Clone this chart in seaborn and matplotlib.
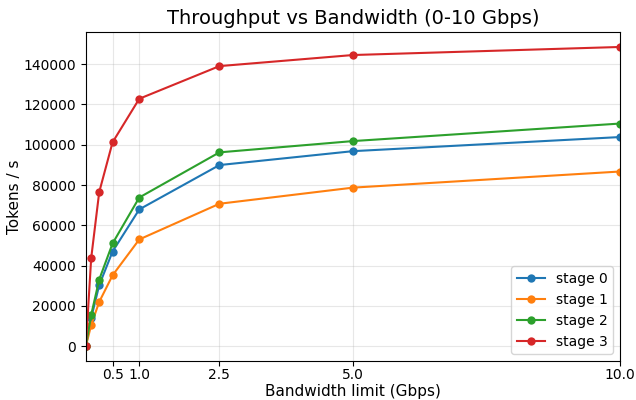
import pandas as pd
import matplotlib
matplotlib.use("Agg")
import matplotlib.pyplot as plt
import seaborn as sns

# Bandwidth limits (Gbps) and measured throughput per stage
bandwidth = [0, 0.1, 0.25, 0.5, 1.0, 2.5, 5.0, 10.0]
stage0 = [0, 14000, 30300, 47000, 67900, 89900, 96800, 103800]
stage1 = [0, 10600, 22000, 35200, 53000, 70700, 78700, 86700]
stage2 = [0, 15600, 33100, 51000, 73800, 96200, 101800, 110500]
stage3 = [0, 43800, 76500, 101200, 122800, 139000, 144500, 148500]
stages = ["stage 0", "stage 1", "stage 2", "stage 3"]
xticks = [0.5, 1.0, 2.5, 5.0, 10.0]

rows = []
for name, vals in zip(stages, [stage0, stage1, stage2, stage3]):
    for bw, v in zip(bandwidth, vals):
        rows.append({"bw": bw, "tps": v, "stage": name})
df = pd.DataFrame(rows)

fig, ax = plt.subplots(figsize=(6.36, 4.0), dpi=100)
sns.lineplot(data=df, x="bw", y="tps", hue="stage", marker="o",
             markersize=6, markeredgewidth=0, linewidth=1.5,
             palette=["#1f77b4", "#ff7f0e", "#2ca02c", "#d62728"], ax=ax)

ax.set_xlim(0, 10)
ax.set_xticks(xticks)
ax.set_xticklabels([str(t) for t in xticks])
ax.tick_params(axis="x", pad=1.5)
ax.grid(True, alpha=0.3)
ax.set_title("Throughput vs Bandwidth (0-10 Gbps)", fontsize=14)
ax.set_xlabel("Bandwidth limit (Gbps)", fontsize=11, labelpad=1)
ax.set_ylabel("Tokens / s", fontsize=11, labelpad=1)
ax.legend(loc="lower right")

fig.subplots_adjust(left=0.135, right=0.975, top=0.92, bottom=0.097)
plt.savefig("out.png", dpi=100)
